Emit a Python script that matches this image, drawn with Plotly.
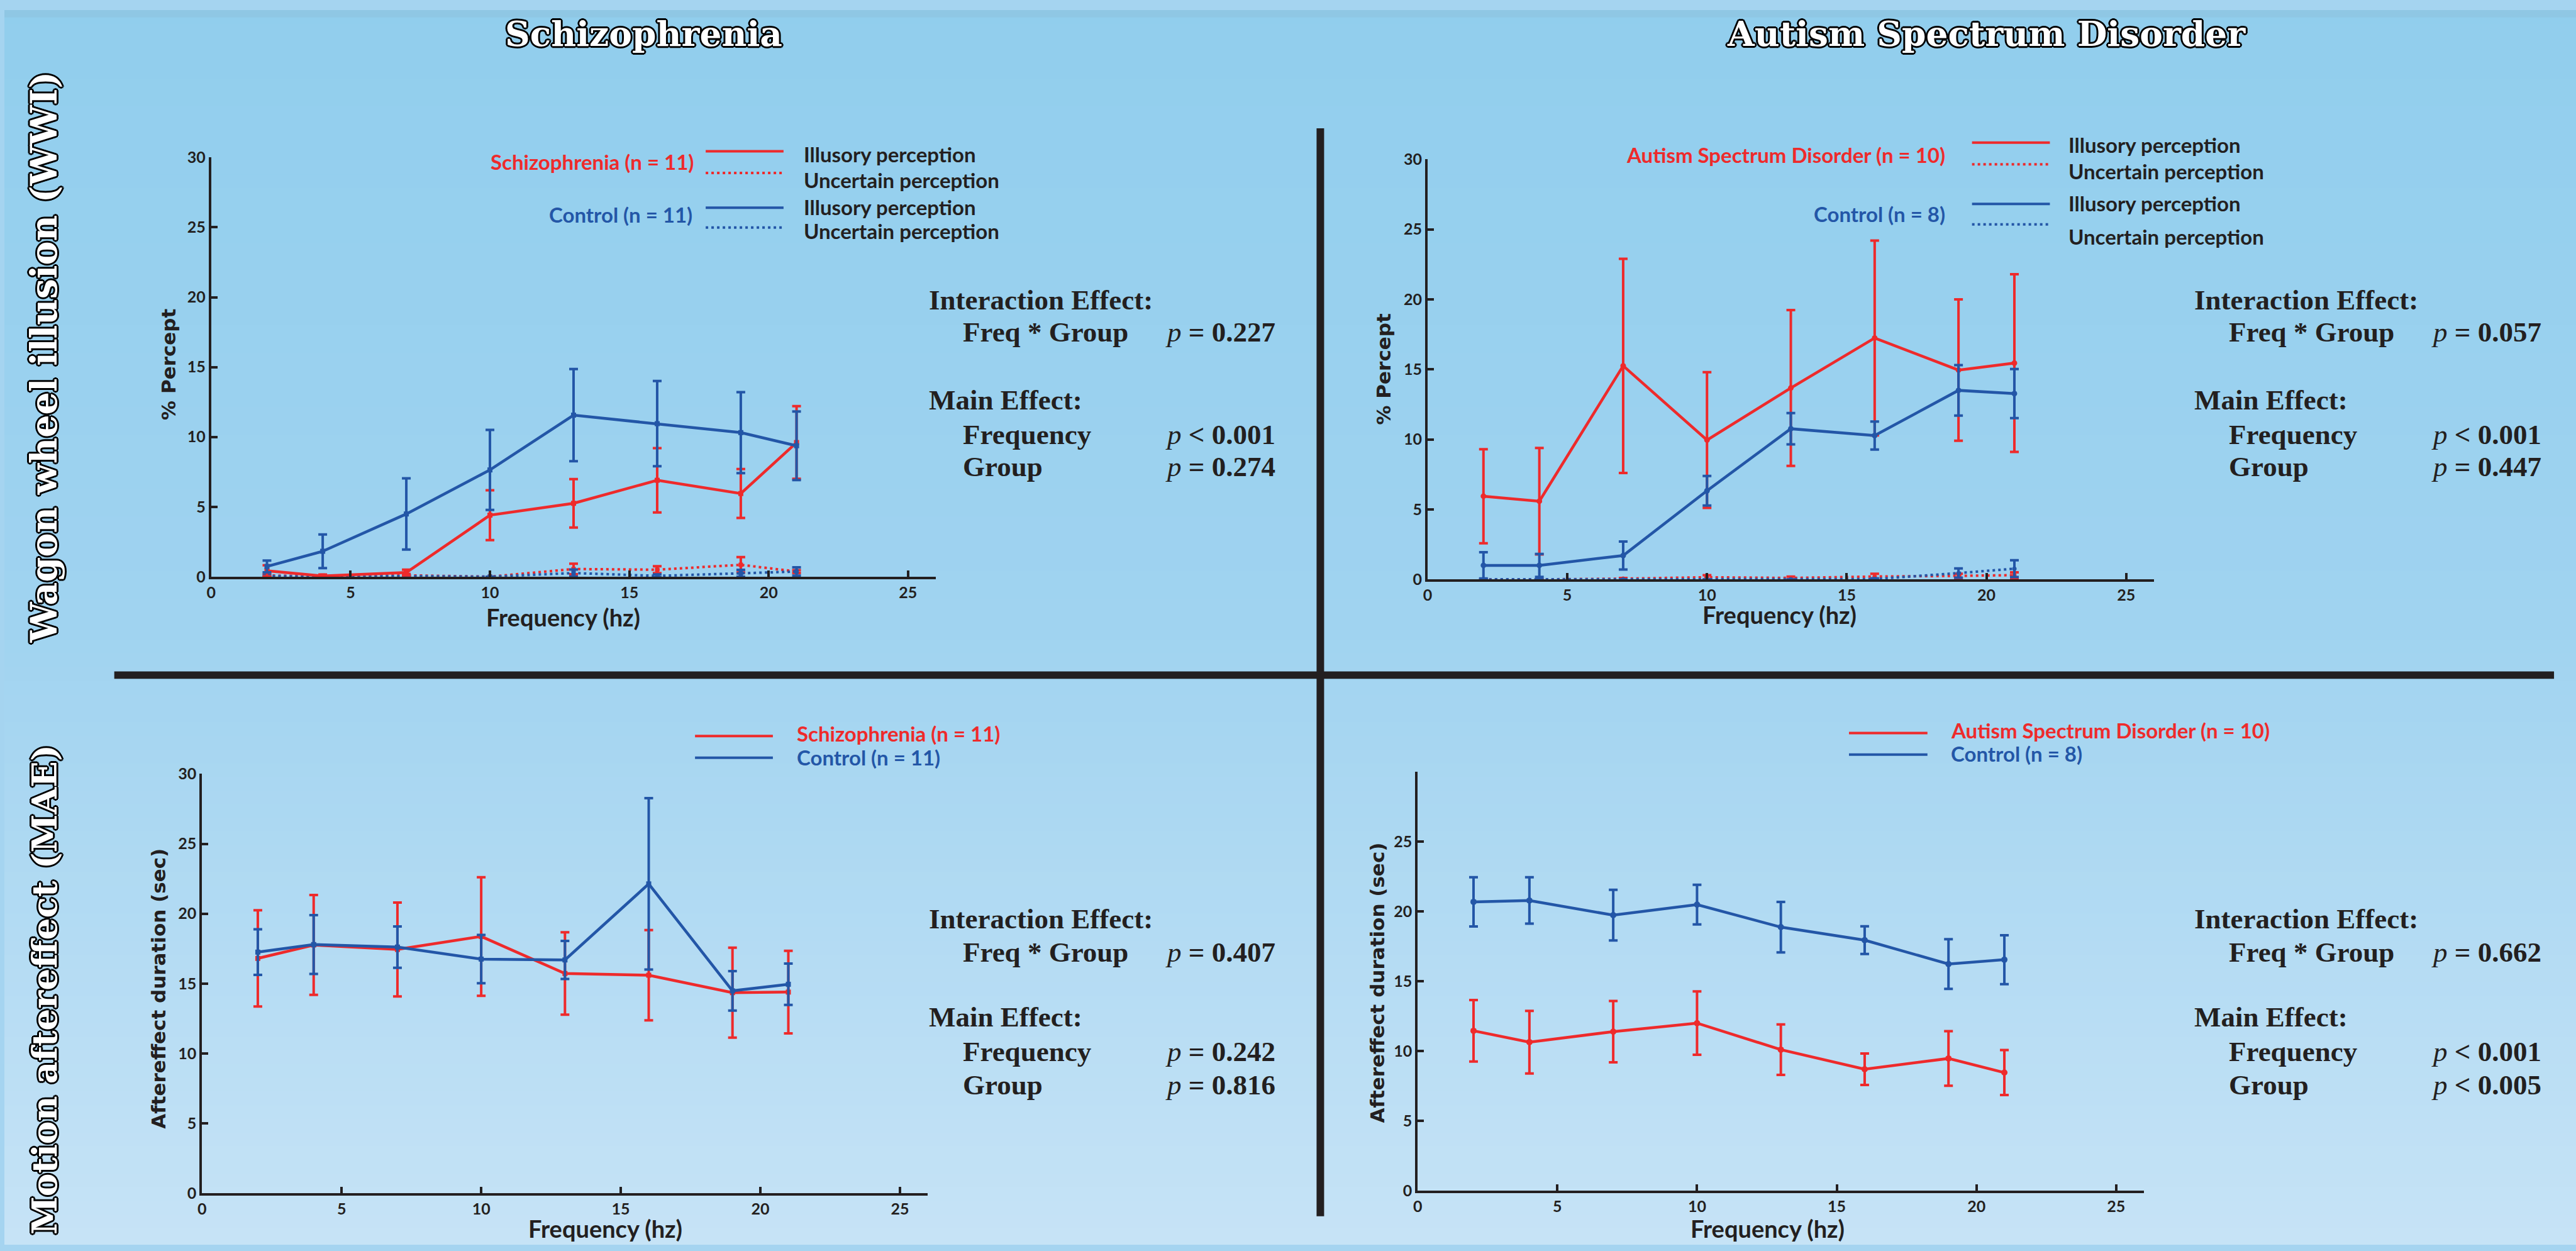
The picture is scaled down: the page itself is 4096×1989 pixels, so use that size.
import plotly.graph_objects as go

W, H = 4096, 1989

# ---------------- data ----------------
freq = [2, 4, 7, 10, 13, 16, 19, 21]

# Schizophrenia - Wagon wheel illusion (% percept)
sz_wwi_illusory = [0.42, 0.05, 0.3, 4.4, 5.25, 6.9, 5.95, 9.6]
sz_wwi_illusory_err = [0.4, 0.1, 0.2, 1.78, 1.73, 2.3, 1.75, 2.6]
sz_wwi_uncertain = [0.1, 0.0, 0.1, 0.0, 0.55, 0.5, 0.85, 0.37]
sz_wwi_uncertain_err = [0.1, 0.0, 0.1, 0.0, 0.38, 0.25, 0.55, 0.1]
szc_wwi_illusory = [0.73, 1.82, 4.49, 7.64, 11.56, 10.95, 10.31, 9.37]
szc_wwi_illusory_err = [0.42, 1.2, 2.55, 2.86, 3.3, 3.05, 2.9, 2.45]
szc_wwi_uncertain = [0.05, 0.0, 0.05, 0.0, 0.26, 0.06, 0.24, 0.37]
szc_wwi_uncertain_err = [0.05, 0.0, 0.05, 0.0, 0.25, 0.1, 0.25, 0.3]

# Autism - Wagon wheel illusion (% percept)
asd_wwi_illusory = [5.94, 5.58, 15.25, 9.95, 13.67, 17.24, 14.95, 15.45]
asd_wwi_illusory_err = [3.36, 3.8, 7.65, 4.85, 5.57, 6.96, 5.05, 6.35]
asd_wwi_uncertain = [0.0, 0.0, 0.05, 0.15, 0.1, 0.2, 0.25, 0.3]
asd_wwi_uncertain_err = [0.0, 0.0, 0.05, 0.15, 0.1, 0.2, 0.15, 0.2]
asdc_wwi_illusory = [1.0, 1.0, 1.7, 6.33, 10.76, 10.27, 13.5, 13.27]
asdc_wwi_illusory_err = [0.94, 0.82, 1.0, 1.06, 1.12, 1.0, 1.8, 1.75]
asdc_wwi_uncertain = [0.0, 0.0, 0.0, 0.0, 0.0, 0.02, 0.45, 0.76]
asdc_wwi_uncertain_err = [0.0, 0.0, 0.0, 0.0, 0.0, 0.05, 0.33, 0.6]

# Schizophrenia - Motion aftereffect duration (sec)
sz_mae = [16.8, 17.76, 17.44, 18.37, 15.72, 15.6, 14.35, 14.39]
sz_mae_err = [3.44, 3.57, 3.36, 4.24, 2.95, 3.23, 3.22, 2.95]
szc_mae = [17.25, 17.79, 17.61, 16.75, 16.69, 22.13, 14.48, 14.95]
szc_mae_err = [1.63, 2.1, 1.48, 1.73, 1.36, 6.13, 1.41, 1.48]

# Autism - Motion aftereffect duration (sec)
asd_mae = [11.45, 10.64, 11.39, 12.0, 10.1, 8.7, 9.47, 8.46]
asd_mae_err = [2.2, 2.24, 2.2, 2.27, 1.81, 1.13, 1.95, 1.61]
asdc_mae = [20.68, 20.78, 19.73, 20.48, 18.87, 17.94, 16.23, 16.54]
asdc_mae_err = [1.76, 1.66, 1.81, 1.42, 1.81, 0.99, 1.78, 1.75]

x_ticks = [0, 5, 10, 15, 20, 25]
y_ticks_full = [0, 5, 10, 15, 20, 25, 30]
y_ticks_short = [0, 5, 10, 15, 20, 25]

# ---------------- style ----------------
RED = "#EE2A2B"
BLUE = "#2356A7"
DARK = "#231F20"
SANS = "Lato"
SERIF = "Liberation Serif"
DISPLAY = "DejaVu Serif"


def fx(x):
    return x / W


def fy(y):
    return 1 - y / H


fig = go.Figure()


def add_series(xa, ya, y, err, color, dash, symbol, msize, lw=4.5):
    fig.add_trace(go.Scatter(
        x=freq, y=y, xaxis=xa, yaxis=ya, mode="lines+markers",
        line=dict(color=color, width=lw, dash=dash),
        marker=dict(color=color, size=msize, symbol=symbol),
        error_y=dict(type="data", array=err, visible=True, color=color,
                     thickness=4, width=7),
        cliponaxis=False, showlegend=False, hoverinfo="skip"))


DOT = "4px,5px"
# Panel 1
add_series("x", "y", sz_wwi_uncertain, sz_wwi_uncertain_err, RED, DOT, "square", 7, 4)
add_series("x", "y", szc_wwi_uncertain, szc_wwi_uncertain_err, BLUE, DOT, "square", 7, 4)
add_series("x", "y", sz_wwi_illusory, sz_wwi_illusory_err, RED, "solid", "square", 8)
add_series("x", "y", szc_wwi_illusory, szc_wwi_illusory_err, BLUE, "solid", "square", 8)
# Panel 2
add_series("x2", "y2", asd_wwi_uncertain, asd_wwi_uncertain_err, RED, DOT, "circle", 7, 4)
add_series("x2", "y2", asdc_wwi_uncertain, asdc_wwi_uncertain_err, BLUE, DOT, "circle", 7, 4)
add_series("x2", "y2", asd_wwi_illusory, asd_wwi_illusory_err, RED, "solid", "circle", 9)
add_series("x2", "y2", asdc_wwi_illusory, asdc_wwi_illusory_err, BLUE, "solid", "circle", 9)
# Panel 3
add_series("x3", "y3", sz_mae, sz_mae_err, RED, "solid", "square", 8)
add_series("x3", "y3", szc_mae, szc_mae_err, BLUE, "solid", "square", 8)
# Panel 4
add_series("x4", "y4", asdc_mae, asdc_mae_err, BLUE, "solid", "circle", 10)
add_series("x4", "y4", asd_mae, asd_mae_err, RED, "solid", "circle", 10)

# panel geometry in output pixels: (x0, x26, y0px, y30px)
geo = [
    (329.4, 1483.7, 914.7, 237.9),
    (2266.8, 3424.0, 919.0, 241.0),
    (314.7, 1471.0, 1910.0, 1233.0),
    (2251.0, 3408.0, 1906.0, 1229.4),
]

axis_common = dict(showgrid=False, zeroline=False, showline=True, linewidth=4,
                   linecolor=DARK, ticks="inside", ticklen=10, tickwidth=4,
                   tickcolor=DARK, fixedrange=True,
                   tickfont=dict(family=SANS, size=25, color=DARK, weight="bold"))
layout_axes = {}
for i, (x0, x1, y0, y1) in enumerate(geo):
    sfx = "" if i == 0 else str(i + 1)
    layout_axes["xaxis" + sfx] = dict(axis_common, domain=[fx(x0), fx(x1)], range=[0, 26],
                                      tickvals=x_ticks, anchor="y" + sfx)
    layout_axes["yaxis" + sfx] = dict(axis_common, domain=[fy(y0), fy(y1)], range=[0, 30],
                                      tickvals=(y_ticks_short if i == 3 else y_ticks_full),
                                      anchor="x" + sfx)

# ---------------- background (vertical gradient) ----------------
shapes = []
stops = [(0.0, (145, 206, 237)), (0.5, (160, 211, 240)), (1.0, (198, 227, 246))]


def col_at(t):
    for (t0, c0), (t1, c1) in zip(stops[:-1], stops[1:]):
        if t <= t1:
            f = (t - t0) / (t1 - t0)
            return "rgb(%d,%d,%d)" % tuple(round(a + (b - a) * f) for a, b in zip(c0, c1))
    return "rgb(%d,%d,%d)" % stops[-1][1]


N = 90
for k in range(N):
    t = (k + 0.5) / N
    shapes.append(dict(type="rect", xref="paper", yref="paper", x0=0, x1=1,
                       y0=1 - (k + 1) / N - 0.002, y1=1 - k / N, layer="below",
                       line=dict(width=0), fillcolor=col_at(t)))
shapes.append(dict(type="rect", xref="paper", yref="paper", x0=0, x1=1,
                   y0=fy(12), y1=1, layer="below", line=dict(width=0),
                   fillcolor="rgb(143,199,228)"))

# dividers
shapes.append(dict(type="rect", xref="paper", yref="paper", x0=fx(175), x1=fx(4061),
                   y0=fy(1079.5), y1=fy(1067.5), line=dict(width=0), fillcolor=DARK))
shapes.append(dict(type="rect", xref="paper", yref="paper", x0=fx(2090), x1=fx(2102),
                   y0=fy(1947), y1=fy(191), line=dict(width=0), fillcolor=DARK))


def seg(x0, x1, y, color, dash="solid"):
    shapes.append(dict(type="line", xref="paper", yref="paper", x0=fx(x0), x1=fx(x1),
                       y0=fy(y), y1=fy(y), line=dict(color=color, width=4, dash=dash)))


annotations = []


def txt(x, y, s, size, color=DARK, family=SANS, xanchor="left", yanchor="middle",
        weight="bold", angle=0, shadow=None):
    f = dict(family=family, size=size, color=color, weight=weight)
    if shadow:
        f["shadow"] = shadow
    annotations.append(dict(xref="paper", yref="paper", x=fx(x), y=fy(y), text=s,
                            showarrow=False, xanchor=xanchor, yanchor=yanchor,
                            font=f, textangle=angle))


# legends panel 1
LEG = 33
txt(1100, 245, "Schizophrenia (n = 11)", LEG, RED, xanchor="right")
seg(1117, 1241, 228, RED)
seg(1117, 1241, 263, RED, DOT)
txt(1271, 232, "Illusory perception", LEG)
txt(1271, 274, "Uncertain perception", LEG)
txt(1098, 330, "Control (n = 11)", LEG, BLUE, xanchor="right")
seg(1117, 1241, 319, BLUE)
seg(1117, 1241, 351, BLUE, DOT)
txt(1271, 318, "Illusory perception", LEG)
txt(1271, 356, "Uncertain perception", LEG)

# legends panel 2
txt(3093, 234, "Autism Spectrum Disorder (n = 10)", LEG, RED, xanchor="right")
seg(3134, 3258, 214, RED)
seg(3134, 3258, 249, RED, DOT)
txt(3286, 217, "Illusory perception", LEG)
txt(3286, 260, "Uncertain perception", LEG)
txt(3093, 329, "Control (n = 8)", LEG, BLUE, xanchor="right")
seg(3134, 3258, 313, BLUE)
seg(3134, 3258, 346, BLUE, DOT)
txt(3286, 312, "Illusory perception", LEG)
txt(3286, 366, "Uncertain perception", LEG)

# legends panel 3
seg(1100, 1224, 1172, RED)
seg(1100, 1224, 1207, BLUE)
txt(1260, 1168, "Schizophrenia (n = 11)", LEG, RED)
txt(1260, 1206, "Control (n = 11)", LEG, BLUE)

# legends panel 4
seg(2938, 3063, 1167, RED)
seg(2938, 3063, 1202, BLUE)
txt(3098, 1163, "Autism Spectrum Disorder (n = 10)", LEG, RED)
txt(3098, 1200, "Control (n = 8)", LEG, BLUE)

# statistics text
P = '<span style="font-style:italic;font-weight:normal">p</span>'
ST = 45


def stats(xl, xi, xp, ys, vals):
    txt(xl, ys[0], "Interaction Effect:", ST, family=SERIF)
    txt(xi, ys[1], "Freq * Group", ST, family=SERIF)
    txt(xp, ys[1], P + " " + vals[0], ST, family=SERIF)
    txt(xl, ys[2], "Main Effect:", ST, family=SERIF)
    txt(xi, ys[3], "Frequency", ST, family=SERIF)
    txt(xp, ys[3], P + " " + vals[1], ST, family=SERIF)
    txt(xi, ys[4], "Group", ST, family=SERIF)
    txt(xp, ys[4], P + " " + vals[2], ST, family=SERIF)


ys_top = [468, 520, 629, 685, 737]
ys_bot = [1467, 1521, 1626, 1681, 1735]
stats(1471, 1525, 1847, ys_top, ["= 0.227", "< 0.001", "= 0.274"])
stats(3486, 3541, 3864, ys_top, ["= 0.057", "< 0.001", "= 0.447"])
stats(1471, 1525, 1847, ys_bot, ["= 0.407", "= 0.242", "= 0.816"])
stats(3486, 3541, 3864, ys_bot, ["= 0.662", "< 0.001", "< 0.005"])

# axis titles
AX = 38
txt(890, 980, "Frequency (hz)", AX, xanchor="center")
txt(2827, 976, "Frequency (hz)", AX, xanchor="center")
txt(957, 1967, "Frequency (hz)", AX, xanchor="center")
txt(2808, 1967, "Frequency (hz)", AX, xanchor="center")
YT = 31
txt(262, 572, "% Percept", YT, family="DejaVu Sans", xanchor="center", angle=-90)
txt(2197, 580, "% Percept", YT, family="DejaVu Sans", xanchor="center", angle=-90)
txt(246, 1580, "Aftereffect duration (sec)", YT, family="DejaVu Sans", xanchor="center", angle=-90)
txt(2187, 1570, "Aftereffect duration (sec)", YT, family="DejaVu Sans", xanchor="center", angle=-90)

# titles & row labels (white with black outline)
OUT = ", ".join("%dpx %dpx 0 #000" % d for d in
                [(-3, 0), (3, 0), (0, -3), (0, 3), (-2, -2), (2, -2), (-2, 2), (2, 2)])
txt(1018, 38, "Schizophrenia", 55, "white", DISPLAY, xanchor="center", shadow=OUT)
txt(3157, 38, "Autism Spectrum Disorder", 55, "white", DISPLAY, xanchor="center", shadow=OUT)
txt(63, 560, "Wagon wheel illusion (WWI)", 57, "white", DISPLAY, xanchor="center",
    angle=-90, shadow=OUT)
txt(63, 1581, "Motion aftereffect (MAE)", 55, "white", DISPLAY, xanchor="center",
    angle=-90, shadow=OUT)

fig.update_layout(
    width=W, height=H, margin=dict(l=0, r=0, t=0, b=0, pad=0),
    paper_bgcolor="rgb(165,212,240)", plot_bgcolor="rgba(0,0,0,0)",
    shapes=shapes, annotations=annotations, showlegend=False,
    **layout_axes)

fig.write_html("out.html", config=dict(displayModeBar=False),
               post_script="document.body.style.margin='0px';"
                           "document.body.style.overflow='hidden';")
